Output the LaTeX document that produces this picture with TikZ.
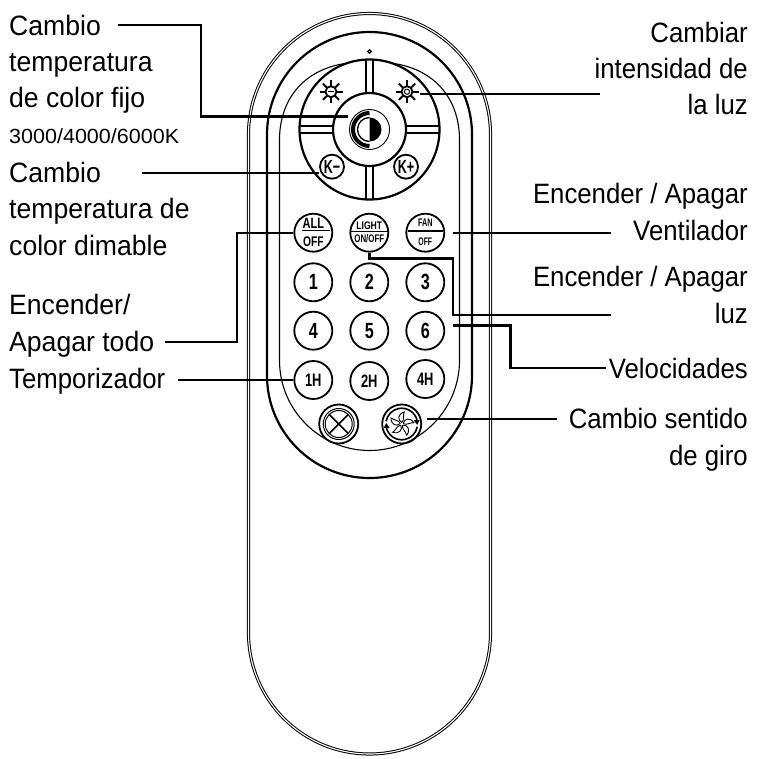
\documentclass[tikz,border=0pt]{standalone}
\usepackage{fontspec}
\usepackage{graphicx}
\setmainfont[FakeStretch=0.92]{Liberation Sans}
\newfontfamily\leftfont[FakeStretch=0.95]{Liberation Sans}
\newfontfamily\kelvinfont[FakeStretch=1.05]{Liberation Sans}
\newcommand{\bt}[3]{{\fontsize{#1}{#1}\selectfont\bfseries\scalebox{#2}[1]{#3}}}
\tikzset{
  conn/.style={line width=2.4pt,line cap=butt,line join=miter},
  lblL/.style={anchor=base west,inner sep=0pt,align=left,font=\leftfont\fontsize{28}{36.4}\selectfont},
  lblR/.style={anchor=base east,inner sep=0pt,align=right,font=\fontsize{28}{36.4}\selectfont},
  btn/.style={circle,draw,line width=1.8pt,minimum size=38pt,inner sep=0pt},
  kbtn/.style={circle,draw,line width=1.8pt,minimum size=24pt,inner sep=0pt},
  sep/.style={line width=1.5pt},
  shell/.style={double,draw=black,double=white,line width=1pt,double distance=1.1pt},
  ring/.style={line width=2.2pt},
  thinl/.style={line width=1.1pt},
}
\begin{document}
\begin{tikzpicture}[x=1pt,y=-1pt]
\useasboundingbox (0,0) rectangle (757,759);
% body
\draw[shell,rounded corners=121pt] (248.5,13.5) rectangle (490.5,754);
\draw[ring,rounded corners=102.5pt] (267,32) rectangle (472,478);
% inner thin outline
\draw[thinl] (345,63.5) .. controls (303,70) and (279.5,100) .. (279.5,140) -- (279.5,360.5)
  .. controls (279.5,410) and (320,450.5) .. (369.5,450.5)
  .. controls (419,450.5) and (459.5,410) .. (459.5,360.5) -- (459.5,140)
  .. controls (459.5,100) and (436,70) .. (394,63.5);
\fill[white] (369.5,129.5) circle[radius=70pt];
% LED
\draw[line width=1.2pt] (369.5,51.5) circle[radius=1.7pt];
% dial
\node[circle,draw,line width=2.2pt,minimum size=140pt,inner sep=0pt] (dial) at (369.5,129.5) {};
\node[circle,draw,line width=2.2pt,minimum size=73pt,inner sep=0pt] (hub) at (369.5,129.5) {};
\draw[ring] (366,60) -- (366,93.5) (373.2,60) -- (373.2,93.5);
\draw[ring] (366,166) -- (366,199) (373.2,166) -- (373.2,199);
\draw[ring] (300,126) -- (333,126) (300,133.2) -- (333,133.2);
\draw[ring] (406,126) -- (439,126) (406,133.2) -- (439,133.2);
% centre button
\node[circle,draw,line width=.9pt,minimum size=40pt,inner sep=0pt] (centre) at (369.5,129.5) {};
\draw[line width=4pt] (369.5,113) arc[start angle=90,end angle=270,radius=16.5pt];
\draw[line width=1.3pt] (369.5,117.5) arc[start angle=90,end angle=270,radius=12pt];
\fill (369.5,117.5) arc[start angle=90,end angle=-90,radius=12pt] -- cycle;
% suns
\foreach \cx/\kind in {331/0,407/1}{
  \begin{scope}[shift={(\cx,91.7)}]
    \foreach \a in {0,45,...,315}{\draw[line width=2pt] (\a:5.5pt) -- (\a:11.5pt);}
    \draw[line width=1.8pt] (0,0) circle[radius=5.5pt];
    \ifnum\kind=0 \draw[line width=1.6pt] (-3,0) -- (3,0);
    \else \draw[line width=1pt] (0,0) circle[radius=2.6pt]; \fi
  \end{scope}
}
% K buttons
\node[kbtn] (kminus) at (332,166.7) {\bt{19}{.72}{K−}};
\node[kbtn] (kplus) at (406,166.7) {\bt{19}{.72}{K+}};
% top row buttons
\node[btn] (all) at (313.3,232.7) {};
\node[btn] (lightb) at (369.3,232.7) {};
\node[btn] (fan) at (425.3,232.7) {};
\node (alltop) at (313.3,223.5) {\bt{15}{.8}{ALL}};
\node (allbot) at (313.3,242) {\bt{14}{.8}{OFF}};
\draw[line width=1.8pt] (302,230.5) -- (329.5,230.5);
\node (lighttop) at (369.3,225.5) {\bt{11}{.85}{LIGHT}};
\node (lightbot) at (369.3,238.5) {\bt{11}{.78}{ON/OFF}};
\draw[sep] (350.5,231.5) -- (388,231.5);
\node (fantop) at (425.3,223) {\bt{11}{.72}{FAN}};
\node (fanbot) at (425.3,242) {\bt{11}{.68}{OFF}};
\draw[sep] (408,231) -- (442.5,231);
% number buttons
\node[btn] (n1) at (313.3,282.3) {\bt{22}{.8}{1}};
\node[btn] (n2) at (369.3,282.3) {\bt{22}{.8}{2}};
\node[btn] (n3) at (425.3,282.3) {\bt{22}{.8}{3}};
\node[btn] (n4) at (313.3,330.7) {\bt{22}{.8}{4}};
\node[btn] (n5) at (369.3,330.7) {\bt{22}{.8}{5}};
\node[btn] (n6) at (425.3,330.7) {\bt{22}{.8}{6}};
\node[btn] (h1) at (313.3,380) {\bt{18}{.78}{1H}};
\node[btn] (h2) at (369.3,381) {\bt{18}{.78}{2H}};
\node[btn] (h4) at (425.3,379) {\bt{18}{.78}{4H}};
% X button
\node[btn,minimum size=39pt] (xbtn) at (338.7,424) {};
\draw[line width=1pt] (338.7,424) circle[radius=15.5pt];
\draw[line width=1pt] (338.7,424) circle[radius=13.5pt];
\draw[line width=1.5pt] (329.2,414.5) -- (348.2,433.5) (348.2,414.5) -- (329.2,433.5);
% fan button
\node[btn,minimum size=39pt] (fanb) at (401.7,424) {};
\begin{scope}[shift={(401.7,424)}]
  \draw[line width=1.6pt] (15.5,-3) arc[start angle=11,end angle=170,radius=15.8pt];
  \draw[line width=1.6pt] (-15.5,3) arc[start angle=191,end angle=350,radius=15.8pt];
  \fill (15.5,1) -- (12,-4) -- (18,-4) -- cycle;
  \fill (-15.5,-1) -- (-12,4) -- (-18,4) -- cycle;
  \foreach \a in {0,72,...,288}{
    \begin{scope}[rotate=\a]
      \draw[line width=.9pt] (0,-1.5) .. controls (-4.5,-4) and (-4,-10) .. (2.5,-12)
        .. controls (1,-8) and (3,-4) .. (0,-1.5);
    \end{scope}
  }
\end{scope}
% labels, left
\node[lblL] (fijo) at (9,108) {Cambio\\temperatura\\de color fijo};
\node[anchor=base west,inner sep=0pt,font=\kelvinfont\fontsize{20.5}{24}\selectfont] (kelvin) at (9,144) {3000/4000/6000K};
\node[lblL] (dimable) at (9,255) {Cambio\\temperatura de\\color dimable};
\node[lblL] (todo) at (9,351) {Encender/\\Apagar todo};
\node[anchor=base west,inner sep=0pt,font=\fontsize{28}{36.4}\selectfont] (temporizador) at (9,388.5) {Temporizador};
% labels, right
\node[lblR] (intens) at (748,115) {Cambiar\\intensidad de\\la luz};
\node[lblR] (vent) at (748,240) {Encender / Apagar\\Ventilador};
\node[lblR] (luz) at (748,323) {Encender / Apagar\\luz};
\node[anchor=base east,inner sep=0pt,font=\fontsize{28}{36.4}\selectfont] (veloc) at (748,378) {Velocidades};
\node[lblR] (sentido) at (748,465) {Cambio sentido\\de giro};
% connector free ends
\coordinate (a1) at (118,25);
\coordinate (a2) at (201,25);
\coordinate (a3) at (201,116.5);
\coordinate (a4) at (348,116.5);
\coordinate (b1) at (142,173);
\coordinate (c1) at (165,342);
\coordinate (c2) at (237,342);
\coordinate (c3) at (237,232.7);
\coordinate (d1) at (178,380);
\coordinate (e1) at (420,94);
\coordinate (e2) at (600,94);
\coordinate (f1) at (611,232.7);
\coordinate (g1) at (369.3,258.3);
\coordinate (g2) at (453,258.3);
\coordinate (g3) at (453,315);
\coordinate (g4) at (611,315);
\coordinate (h1s) at (452.5,325.3);
\coordinate (h2s) at (510.5,325.3);
\coordinate (h3s) at (510.5,368);
\coordinate (h4s) at (606,368);
\coordinate (i1) at (427,419);
\coordinate (i2) at (557,419);
\coordinate (f0) at (452.5,232.7);
% connectors
\draw[conn] (a1) -- (a2) -- (a3) -- (a4);
\draw[conn] (b1) -- (kminus.west |- b1);
\draw[conn] (c1) -- (c2) -- (c3) -- (all.west);
\draw[conn] (d1) -- (h1.west);
\draw[conn] (e1) -- (e2);
\draw[conn] (f0) -- (f1);
\draw[conn] (lightb.south) -- (g1) -- (g2) -- (g3) -- (g4);
\draw[conn] (h1s) -- (h2s) -- (h3s) -- (h4s);
\draw[conn] (i1) -- (i2);
\end{tikzpicture}
\end{document}
